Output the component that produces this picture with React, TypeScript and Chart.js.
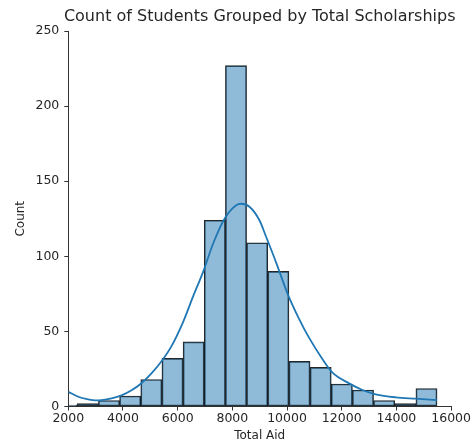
import React, { useEffect, useRef } from "react";
import { Chart, registerables } from "chart.js";

Chart.register(...registerables);

const chartTitle = "Count of Students Grouped by Total Scholarships";
const xTitle = "Total Aid";
const yTitle = "Count";

const binEdges = [1554, 2328, 3102, 3876, 4650, 5424, 6198, 6972, 7746, 8520, 9294, 10068, 10842, 11616, 12390, 13164, 13938, 14712, 15486];
const binCounts = [1, 2, 4, 7, 18, 32, 43, 124, 227, 109, 90, 30, 26, 15, 11, 4, 2, 12];

const kdeX = [2000, 2365, 2729, 2973, 3218, 3582, 3947, 4312, 4676, 5041, 5464, 5770, 6193, 6558, 6959, 7287, 7713, 8140, 8322, 8625, 8990, 9234, 9598, 10021, 10448, 10813, 11297, 11662, 12271, 12756, 13244, 13973, 14703, 15486];
const kdeY = [9.8, 6.5, 4.8, 4.1, 4.3, 5.4, 7.4, 10.8, 15.5, 22, 31.5, 40, 56, 73, 91, 108, 125, 134, 135, 133, 124, 113, 96, 75, 58, 45.5, 31.5, 22.5, 15.4, 11, 8.1, 6.1, 5.2, 4.3];

const xTicks = [2000, 4000, 6000, 8000, 10000, 12000, 14000, 16000];
const yTicks = [0, 50, 100, 150, 200, 250];

const FONT = "'DejaVu Sans', sans-serif";
const TEXT = "#262626";

const titlePlugin = {
  id: "plotTitle",
  afterDraw(chart: any) {
    const { ctx, chartArea } = chart;
    ctx.save();
    ctx.font = `16px ${FONT}`;
    ctx.fillStyle = TEXT;
    ctx.textAlign = "center";
    ctx.textBaseline = "middle";
    ctx.fillText(chartTitle, (chartArea.left + chartArea.right) / 2, 17);
    ctx.restore();
  },
};

export default function App() {
  const ref = useRef<HTMLCanvasElement | null>(null);

  useEffect(() => {
    if (!ref.current) return;
    const bars = binCounts.map((c, i) => ({ x: (binEdges[i] + binEdges[i + 1]) / 2, y: c }));
    const kde = kdeX.map((x, i) => ({ x, y: kdeY[i] }));
    const chart = new Chart(ref.current, {
      type: "bar",
      data: {
        datasets: [
          {
            type: "line",
            data: kde,
            borderColor: "#1f77b4",
            borderWidth: 1.8,
            pointRadius: 0,
            cubicInterpolationMode: "monotone",
            fill: false,
            order: 0,
          } as any,
          {
            type: "bar",
            data: bars,
            backgroundColor: "rgba(31,119,180,0.5)",
            borderColor: "rgba(0,0,0,0.85)",
            borderWidth: 1,
            borderSkipped: false,
            barPercentage: 1,
            categoryPercentage: 1,
            grouped: false,
            clip: 0,
            order: 1,
          } as any,
        ],
      },
      options: {
        responsive: false,
        animation: false,
        events: [],
        layout: { padding: { top: 31, right: 20, left: 0, bottom: 0 } },
        plugins: { legend: { display: false }, tooltip: { enabled: false }, title: { display: false } },
        scales: {
          x: {
            type: "linear",
            min: 2000,
            max: 16000,
            offset: false,
            afterBuildTicks: (s: any) => { s.ticks = xTicks.map((v) => ({ value: v })); },
            afterFit: (s: any) => { s.height = 36.5; },
            ticks: { color: TEXT, font: { family: FONT, size: 12.5 }, padding: 1, maxRotation: 0, autoSkip: false, callback: (v: any) => String(v) },
            grid: { drawOnChartArea: false, drawTicks: true, tickLength: 4, color: "#333", offset: false },
            border: { display: true, color: "#333", width: 1 },
            title: { display: true, text: xTitle, color: TEXT, font: { family: FONT, size: 12 }, padding: { top: 0, bottom: 0 } },
          },
          y: {
            type: "linear",
            min: 0,
            max: 250,
            afterBuildTicks: (s: any) => { s.ticks = yTicks.map((v) => ({ value: v })); },
            afterFit: (s: any) => { s.width = 68.3; },
            ticks: { color: TEXT, font: { family: FONT, size: 12.5 }, padding: 5, callback: (v: any) => String(v) },
            grid: { drawOnChartArea: false, drawTicks: true, tickLength: 4, color: "#333" },
            border: { display: true, color: "#333", width: 1 },
            title: { display: true, text: yTitle, color: TEXT, font: { family: FONT, size: 12 }, padding: { top: 14, bottom: 0 } },
          },
        },
      },
      plugins: [titlePlugin],
    });
    return () => chart.destroy();
  }, []);

  return (
    <div style={{ position: "absolute", left: 0, top: 0, width: 472, height: 443, background: "#fff" }}>
      <canvas ref={ref} width={472} height={443} style={{ display: "block" }} />
    </div>
  );
}
